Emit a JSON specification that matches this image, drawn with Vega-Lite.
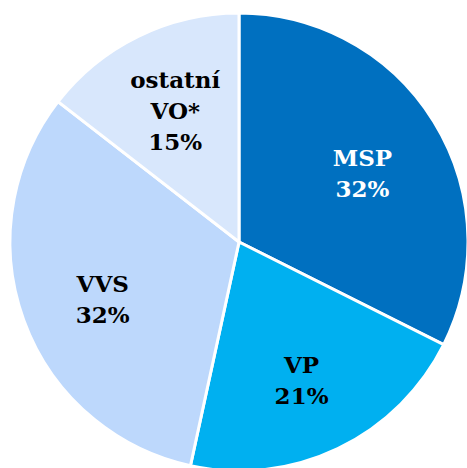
{
  "$schema": "https://vega.github.io/schema/vega-lite/v6.json",
  "width": 456,
  "height": 452,
  "padding": {"left": 11, "top": 16, "right": 0, "bottom": 0},
  "autosize": {"type": "none"},
  "background": "white",
  "view": {"stroke": null},
  "data": {
    "values": [
      {"category": "MSP", "share": 32.4, "label": "MSP\n32%", "order": 1},
      {"category": "VP", "share": 21.0, "label": "VP\n21%", "order": 2},
      {"category": "VVS", "share": 32.1, "label": "VVS\n32%", "order": 3},
      {"category": "ostatní VO*", "share": 14.5, "label": "ostatní\nVO*\n15%", "order": 4}
    ]
  },
  "encoding": {
    "theta": {"field": "share", "type": "quantitative", "stack": true},
    "order": {"field": "order", "type": "quantitative"}
  },
  "layer": [
    {
      "mark": {"type": "arc", "outerRadius": 229, "stroke": "white", "strokeWidth": 3},
      "encoding": {
        "color": {
          "field": "category",
          "type": "nominal",
          "scale": {
            "domain": ["MSP", "VP", "VVS", "ostatní VO*"],
            "range": ["#0070C0", "#00B0F0", "#BDD8FC", "#D8E7FC"]
          },
          "legend": null
        }
      }
    },
    {
      "mark": {
        "type": "text",
        "radius": 145,
        "font": "DejaVu Serif",
        "fontWeight": "bold",
        "fontSize": 23,
        "lineBreak": "\n",
        "lineHeight": 31,
        "align": "center",
        "baseline": "middle",
        "dy": {"expr": "length(split(datum.label, '\\n')) > 2 ? -31 : -7"}
      },
      "encoding": {
        "text": {"field": "label", "type": "nominal"},
        "color": {
          "field": "category",
          "type": "nominal",
          "scale": {
            "domain": ["MSP", "VP", "VVS", "ostatní VO*"],
            "range": ["#FFFFFF", "#000000", "#000000", "#000000"]
          },
          "legend": null
        }
      }
    }
  ],
  "resolve": {"scale": {"color": "independent"}}
}
